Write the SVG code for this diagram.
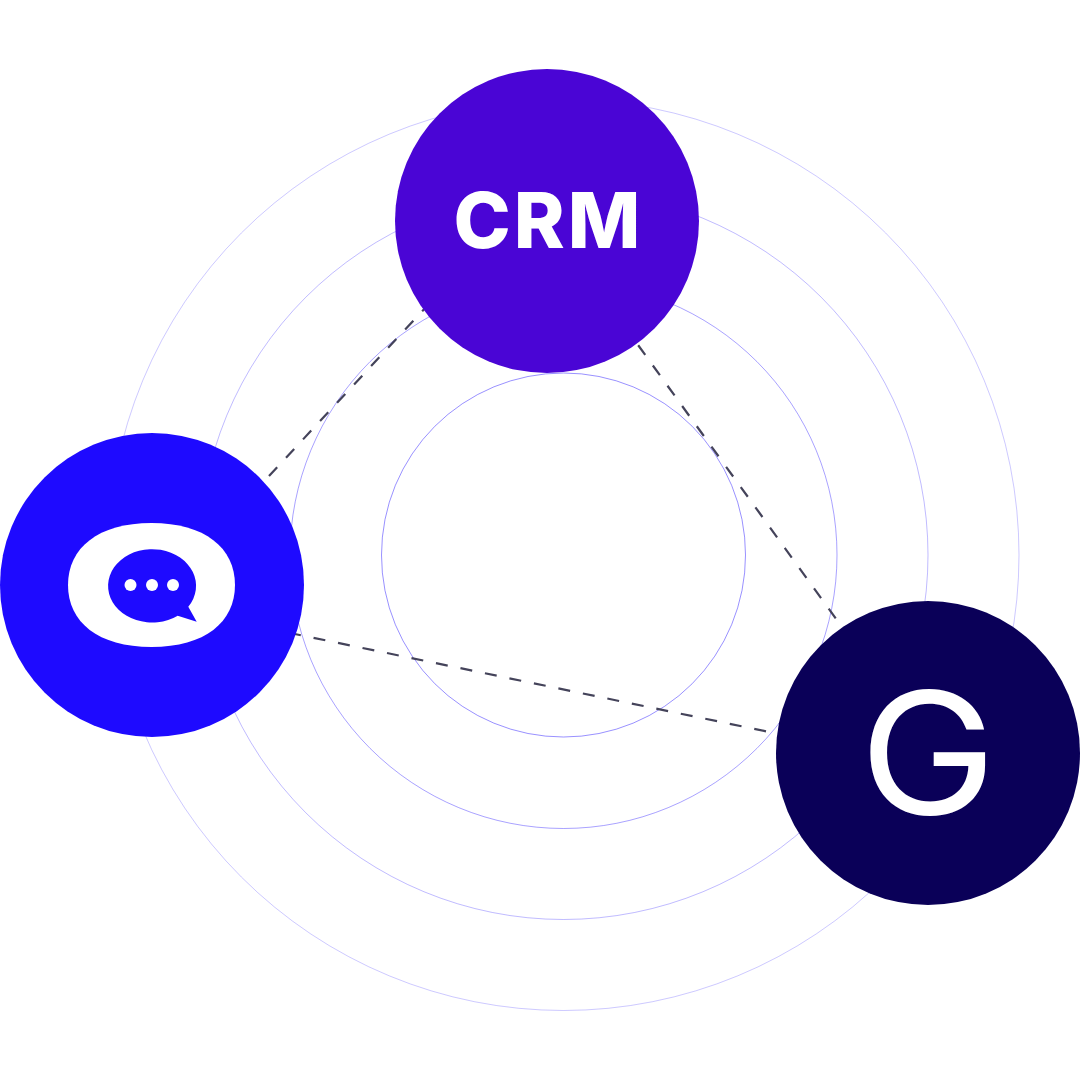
<svg xmlns="http://www.w3.org/2000/svg" width="1080" height="1080" viewBox="0 0 1080 1080">
<style>
.ring{fill:none;stroke:#1c0aff;stroke-width:1}
.dash{fill:none;stroke:#44435a;stroke-width:2.2;stroke-dasharray:12 13}
.lbl{fill:#fff}
</style>
<g id="rings">
<circle class="ring" cx="563.5" cy="555" r="182" stroke-opacity=".45"/>
<circle class="ring" cx="563.5" cy="555" r="273.5" stroke-opacity=".38"/>
<circle class="ring" cx="563.5" cy="555" r="364.5" stroke-opacity=".28"/>
<circle class="ring" cx="563.5" cy="555" r="455.5" stroke-opacity=".22"/>
</g>
<g id="connectors">
<path class="dash" d="M269 476L440 292"/>
<path class="dash" d="M835.7 618.3L625 327"/>
<path class="dash" d="M766 731.3L290 633"/>
</g>
<g id="node-crm">
<circle cx="547" cy="221" r="152" fill="#4a05d5"/>
<text class="lbl" x="548.5" y="248" text-anchor="middle" font-family="Inter,'Liberation Sans',sans-serif" font-weight="800" font-size="77" letter-spacing="3">CRM</text>
</g>
<g id="node-chat">
<circle cx="152" cy="585" r="152" fill="#1e0aff"/>
<path fill="#fff" d="M151.5 523C205 523 235 548 235 585C235 622 205 647 151.5 647C98 647 68 622 68 585C68 548 98 523 151.5 523Z"/>
<path fill="#1e0aff" d="M188.3 606.7L196.7 621.7L177.7 615.7A44 36.7 0 1 1 188.3 606.7Z"/>
<circle cx="130.5" cy="585" r="6" fill="#fff"/>
<circle cx="152" cy="585" r="6" fill="#fff"/>
<circle cx="173" cy="585" r="6" fill="#fff"/>
</g>
<g id="node-g">
<circle cx="928" cy="753" r="152" fill="#0a0058"/>
<text class="lbl" transform="translate(928 814) scale(1.08 1)" text-anchor="middle" font-family="Inter,'Liberation Sans',sans-serif" font-weight="400" font-size="170">G</text>
</g>
</svg>
